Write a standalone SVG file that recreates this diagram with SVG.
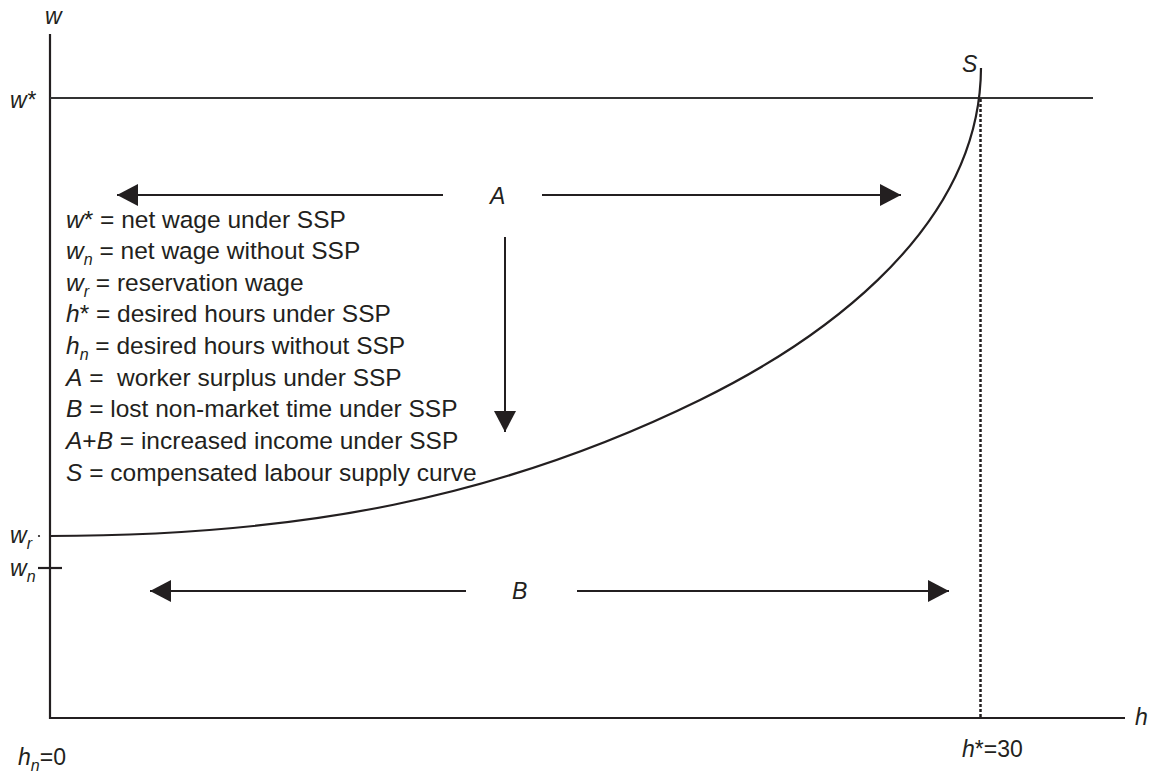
<svg xmlns="http://www.w3.org/2000/svg" width="1149" height="773" viewBox="0 0 1149 773">
<style>
text{font-family:"Liberation Sans",Arial,sans-serif;font-size:23px;fill:#231f20}
.lg text{font-size:24.5px}
.i{font-style:italic}
.sub{font-size:16px;font-style:italic}
.ax{stroke:#231f20;stroke-width:2.2;fill:none}
.ln{stroke:#333;stroke-width:2;fill:none}
.arr{stroke:#231f20;stroke-width:2;fill:none;marker-end:url(#ah)}
</style>
<defs>
<marker id="ah" markerUnits="userSpaceOnUse" markerWidth="22" markerHeight="24" refX="21" refY="11" orient="auto">
<path d="M0,0 L21,11 L0,22 Z" fill="#231f20"/>
</marker>
</defs>
<rect width="1149" height="773" fill="#fff"/>
<g id="axes">
<path class="ax" d="M50,34 V718 H1125"/>
<line class="ln" x1="50" y1="98" x2="1093" y2="98"/>
<line class="ax" x1="38" y1="568" x2="62" y2="568"/>
<circle cx="39" cy="536" r="1.1" fill="#231f20"/>
<line x1="980.5" y1="99" x2="980.5" y2="717" stroke="#231f20" stroke-width="2.5" stroke-dasharray="3,2"/>
</g>
<g id="curve">
<path class="ax" d="M49,536 C300,536 500,498 700,400 C800,351 980,240 981,68"/>
</g>
<g id="connectors">
<line class="arr" x1="443" y1="195" x2="117" y2="195"/>
<line class="arr" x1="542" y1="195" x2="901" y2="195"/>
<line class="arr" x1="505" y1="237" x2="505" y2="432"/>
<line class="arr" x1="466" y1="591" x2="150" y2="591"/>
<line class="arr" x1="577" y1="591" x2="949" y2="591"/>
</g>
<g id="labels">
<text class="i" x="45" y="24">w</text>
<text class="i" x="10" y="108">w*</text>
<text x="10" y="543"><tspan class="i">w</tspan><tspan class="sub" dy="6">r</tspan></text>
<text x="10" y="576"><tspan class="i">w</tspan><tspan class="sub" dy="6">n</tspan></text>
<text x="18" y="765"><tspan class="i">h</tspan><tspan class="sub" dy="6">n</tspan><tspan dy="-6">=0</tspan></text>
<text x="962" y="757"><tspan class="i">h</tspan>*=30</text>
<text class="i" x="1135" y="725">h</text>
<text class="i" x="962" y="72">S</text>
<text class="i" x="490" y="204">A</text>
<text class="i" x="512" y="599">B</text>
</g>
<g id="legend" class="lg">
<text x="66" y="228"><tspan class="i">w</tspan>* = net wage under SSP</text>
<text x="66" y="259"><tspan class="i">w</tspan><tspan class="sub" dy="6">n</tspan><tspan dy="-6"> = net wage without SSP</tspan></text>
<text x="66" y="291"><tspan class="i">w</tspan><tspan class="sub" dy="6">r</tspan><tspan dy="-6"> = reservation wage</tspan></text>
<text x="66" y="322"><tspan class="i">h</tspan>* = desired hours under SSP</text>
<text x="66" y="354"><tspan class="i">h</tspan><tspan class="sub" dy="6">n</tspan><tspan dy="-6"> = desired hours without SSP</tspan></text>
<text x="66" y="386" xml:space="preserve"><tspan class="i">A</tspan> =  worker surplus under SSP</text>
<text x="66" y="417"><tspan class="i">B</tspan> = lost non-market time under SSP</text>
<text x="66" y="449"><tspan class="i">A</tspan>+<tspan class="i">B</tspan> = increased income under SSP</text>
<text x="66" y="481"><tspan class="i">S</tspan> = compensated labour supply curve</text>
</g>
</svg>
